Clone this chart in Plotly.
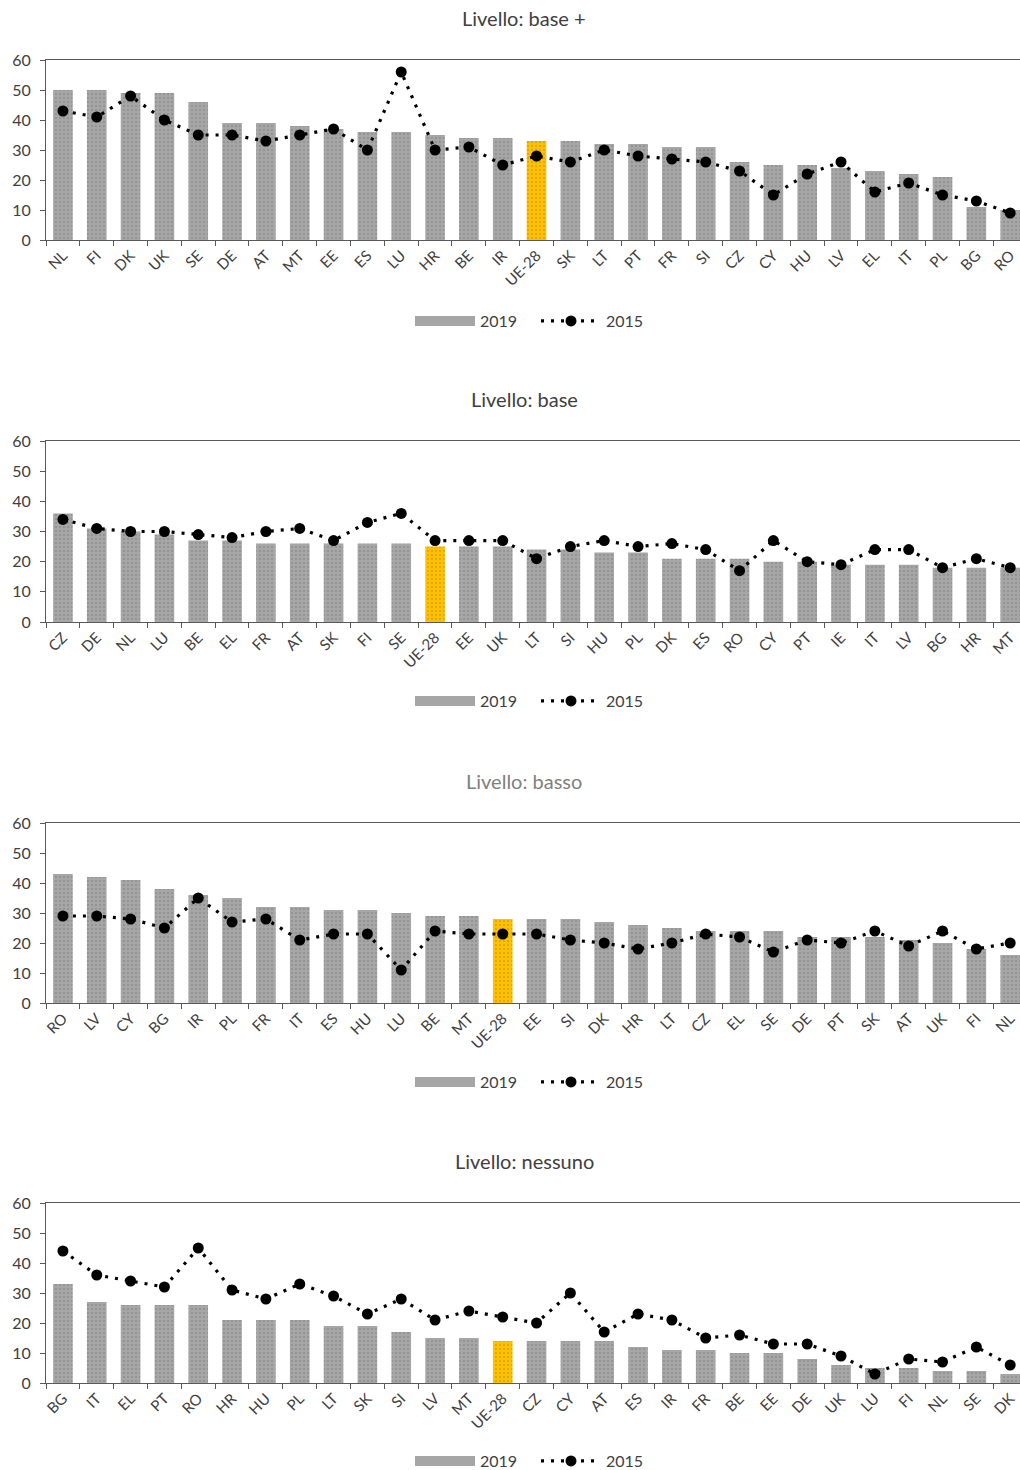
import plotly.graph_objects as go

# ---------------- data ----------------
titles = ["Livello: base +", "Livello: base", "Livello: basso", "Livello: nessuno"]

cat_base_plus = ["NL", "FI", "DK", "UK", "SE", "DE", "AT", "MT", "EE", "ES", "LU", "HR", "BE", "IR", "UE-28",
                 "SK", "LT", "PT", "FR", "SI", "CZ", "CY", "HU", "LV", "EL", "IT", "PL", "BG", "RO"]
v2019_base_plus = [50, 50, 49, 49, 46, 39, 39, 38, 37, 36, 36, 35, 34, 34, 33,
                   33, 32, 32, 31, 31, 26, 25, 25, 24, 23, 22, 21, 11, 10]
v2015_base_plus = [43, 41, 48, 40, 35, 35, 33, 35, 37, 30, 56, 30, 31, 25, 28,
                   26, 30, 28, 27, 26, 23, 15, 22, 26, 16, 19, 15, 13, 9]

cat_base = ["CZ", "DE", "NL", "LU", "BE", "EL", "FR", "AT", "SK", "FI", "SE", "UE-28", "EE", "UK", "LT",
            "SI", "HU", "PL", "DK", "ES", "RO", "CY", "PT", "IE", "IT", "LV", "BG", "HR", "MT"]
v2019_base = [36, 31, 30, 29, 27, 27, 26, 26, 26, 26, 26, 25, 25, 25, 24,
              24, 23, 23, 21, 21, 21, 20, 20, 19, 19, 19, 18, 18, 18]
v2015_base = [34, 31, 30, 30, 29, 28, 30, 31, 27, 33, 36, 27, 27, 27, 21,
              25, 27, 25, 26, 24, 17, 27, 20, 19, 24, 24, 18, 21, 18]

cat_basso = ["RO", "LV", "CY", "BG", "IR", "PL", "FR", "IT", "ES", "HU", "LU", "BE", "MT", "UE-28", "EE",
             "SI", "DK", "HR", "LT", "CZ", "EL", "SE", "DE", "PT", "SK", "AT", "UK", "FI", "NL"]
v2019_basso = [43, 42, 41, 38, 36, 35, 32, 32, 31, 31, 30, 29, 29, 28, 28,
               28, 27, 26, 25, 24, 24, 24, 22, 22, 22, 21, 20, 18, 16]
v2015_basso = [29, 29, 28, 25, 35, 27, 28, 21, 23, 23, 11, 24, 23, 23, 23,
               21, 20, 18, 20, 23, 22, 17, 21, 20, 24, 19, 24, 18, 20]

cat_nessuno = ["BG", "IT", "EL", "PT", "RO", "HR", "HU", "PL", "LT", "SK", "SI", "LV", "MT", "UE-28", "CZ",
               "CY", "AT", "ES", "IR", "FR", "BE", "EE", "DE", "UK", "LU", "FI", "NL", "SE", "DK"]
v2019_nessuno = [33, 27, 26, 26, 26, 21, 21, 21, 19, 19, 17, 15, 15, 14, 14,
                 14, 14, 12, 11, 11, 10, 10, 8, 6, 5, 5, 4, 4, 3]
v2015_nessuno = [44, 36, 34, 32, 45, 31, 28, 33, 29, 23, 28, 21, 24, 22, 20,
                 30, 17, 23, 21, 15, 16, 13, 13, 9, 3, 8, 7, 12, 6]

y_ticks = [0, 10, 20, 30, 40, 50, 60]
series_names = ["2019", "2015"]

panels = [
    (cat_base_plus, v2019_base_plus, v2015_base_plus),
    (cat_base, v2019_base, v2015_base),
    (cat_basso, v2019_basso, v2015_basso),
    (cat_nessuno, v2019_nessuno, v2015_nessuno),
]

# ---------------- layout geometry ----------------
W, H = 1020, 1470
ML = 46
plot_px = [(60, 240), (441, 622), (823, 1003), (1203, 1383)]
title_px = [18, 399, 781, 1161]
legend_px = [321, 701, 1082, 1461]
title_colors = ["#404040", "#404040", "#808080", "#404040"]

BAR = "#a6a6a6"
HIGHLIGHT = "#ffc000"
AXIS = "#595959"
FONT = "Lato, 'Open Sans', sans-serif"

fig = go.Figure()
layout_updates = {}
annotations = []

for i, (cats, v19, v15) in enumerate(panels):
    n = i + 1
    xa = "x" if n == 1 else f"x{n}"
    ya = "y" if n == 1 else f"y{n}"
    leg = "legend" if n == 1 else f"legend{n}"
    colors = [HIGHLIGHT if c == "UE-28" else BAR for c in cats]
    fg = [HIGHLIGHT if c == "UE-28" else "#a0a0a0" for c in cats]

    fig.add_trace(go.Bar(
        x=cats, y=v19, name=series_names[0], xaxis=xa, yaxis=ya, legend=leg,
        marker=dict(color=colors, line=dict(width=0),
                    pattern=dict(shape=".", fgcolor=fg, bgcolor=colors, size=4, solidity=0.1)),
        showlegend=False,
    ))
    # legend proxy for the bar series (wide grey swatch, as in the original)
    fig.add_trace(go.Scatter(
        x=[None], y=[None], name=series_names[0], xaxis=xa, yaxis=ya, legend=leg,
        mode="lines", line=dict(color=BAR, width=10), showlegend=True, hoverinfo="skip",
    ))
    fig.add_trace(go.Scatter(
        x=cats, y=v15, name=series_names[1], xaxis=xa, yaxis=ya, legend=leg,
        mode="lines+markers",
        line=dict(color="black", width=3.2, dash="3px,7px"),
        marker=dict(color="black", size=11),
        showlegend=True,
    ))

    top, bot = plot_px[i]
    layout_updates[f"xaxis{'' if n == 1 else n}"] = dict(
        domain=[0, 1], anchor=ya, type="category",
        categoryorder="array", categoryarray=cats,
        range=[-0.5, 28.29],
        tickangle=-45, tickson="boundaries", ticks="outside", ticklen=5,
        tickcolor=AXIS, tickwidth=1,
        showline=True, linecolor=AXIS, linewidth=1, mirror=True,
        showgrid=False, zeroline=False, automargin=False,
        tickfont=dict(size=15, color="#404040", family=FONT),
        fixedrange=True,
    )
    layout_updates[f"yaxis{'' if n == 1 else n}"] = dict(
        domain=[1 - bot / H, 1 - top / H], anchor=xa,
        range=[0, 60], tickvals=y_ticks,
        ticks="outside", ticklen=5, tickcolor=AXIS, tickwidth=1,
        showline=True, linecolor=AXIS, linewidth=1,
        showgrid=False, zeroline=False, automargin=False,
        ticklabelstandoff=6,
        tickfont=dict(size=16, color="#404040", family=FONT),
        fixedrange=True,
    )
    layout_updates[leg] = dict(
        orientation="h", x=(536 - ML) / (W - ML), y=1 - legend_px[i] / H,
        xanchor="center", yanchor="middle",
        font=dict(size=16, color="#404040", family=FONT),
        bgcolor="rgba(0,0,0,0)", tracegroupgap=0, itemwidth=60,
        entrywidth=51,
    )
    annotations.append(dict(
        text=titles[i], xref="paper", yref="paper",
        x=(524 - ML) / (W - ML), y=1 - title_px[i] / H,
        xanchor="center", yanchor="middle", showarrow=False,
        font=dict(size=20, color=title_colors[i], family=FONT),
    ))

fig.update_layout(
    width=W, height=H,
    margin=dict(l=ML, r=0, t=0, b=0, pad=0, autoexpand=False),
    paper_bgcolor="white", plot_bgcolor="white",
    barmode="group", bargap=0.42,
    font=dict(family=FONT, color="#404040"),
    annotations=annotations,
    **layout_updates,
)

fig.write_html(
    "out.html",
    config={"displayModeBar": False},
    post_script="document.body.style.margin='0';document.body.style.overflow='hidden';",
)
